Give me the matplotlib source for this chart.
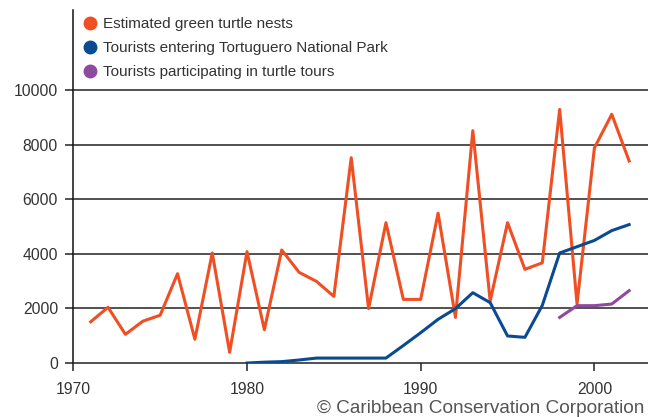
import numpy as np
import matplotlib.pyplot as plt
from matplotlib.lines import Line2D

plt.rcParams['font.family'] = ['Liberation Sans', 'DejaVu Sans']

# data
nest_years = list(range(1971, 2003))
nests = [1510, 2040, 1050, 1530, 1750, 3270, 870, 4030, 390, 4080,
         1220, 4140, 3320, 2990, 2440, 7520, 1990, 5140, 2330, 2330,
         5490, 1670, 8510, 2270, 5140, 3430, 3670, 9290, 2160, 7880,
         9110, 7400]

park_years = list(range(1980, 2003))
park = [0, 30, 50, 110, 180, 180, 180, 180, 180, 640,
        1110, 1600, 1990, 2575, 2210, 990, 940, 2110, 4030, 4260,
        4490, 4850, 5070]

tour_years = [1998, 1999, 2000, 2001, 2002]
tours = [1670, 2100, 2100, 2160, 2650]

labels = ["Estimated green turtle nests",
          "Tourists entering Tortuguero National Park",
          "Tourists participating in turtle tours"]
colors = ["#F04E23", "#0A4A92", "#8E4A9E"]

fig = plt.figure(figsize=(6.48, 4.17), dpi=100)
ax = fig.add_axes([73.3 / 648, 1 - 363 / 417, 1 - 73.3 / 648, (363 - 10) / 417])

for y in range(2000, 10001, 2000):
    ax.axhline(y, color="#222222", lw=1.1, zorder=1)

ax.plot(nest_years, nests, color=colors[0], lw=2.2, zorder=3)
ax.plot(park_years, park, color=colors[1], lw=2.2, zorder=3)
ax.plot(tour_years, tours, color=colors[2], lw=2.2, zorder=3)

ax.set_xlim(1970, 1970 + (648 - 73.3) / 17.37)
ax.set_ylim(0, (363 - 10) / 27.3 * 1000)
ax.set_xticks([1970, 1980, 1990, 2000])
ax.set_yticks(range(0, 10001, 2000))
for s in ["top", "right"]:
    ax.spines[s].set_visible(False)
ax.spines["left"].set_color("#111111")
ax.spines["bottom"].set_color("#222222")
ax.spines["left"].set_linewidth(1.1)
ax.spines["bottom"].set_linewidth(1.1)
ax.tick_params(axis="both", direction="out", length=5.5, width=1.1,
               color="#222222", labelsize=11.3, labelcolor="#333333")
ax.tick_params(axis="y", pad=5.5)
ax.tick_params(axis="x", pad=8)

handles = [Line2D([], [], marker="o", ls="", color=c, markersize=9) for c in colors]
leg = ax.legend(handles, labels, loc="upper left", bbox_to_anchor=(0.003, 0.997),
                frameon=False, fontsize=11, handletextpad=0.24,
                labelspacing=0.65, handlelength=1.2, borderaxespad=0)
for t in leg.get_texts():
    t.set_color("#333333")

fig.text(0.995, (417 - 413) / 417, "© Caribbean Conservation Corporation", ha="right",
         va="baseline", fontsize=13.7, color="#555555")

fig.savefig("out.png", dpi=100)
